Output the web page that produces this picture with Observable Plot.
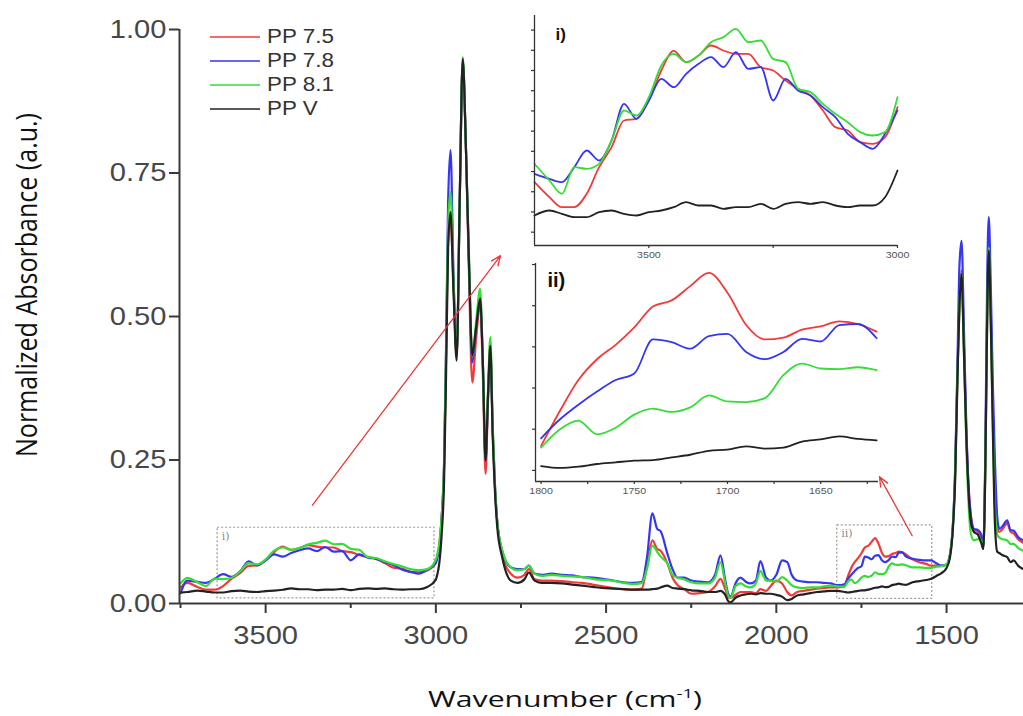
<!DOCTYPE html>
<html><head><meta charset="utf-8">
<script src="https://cdn.jsdelivr.net/npm/d3@7"></script>
<script src="https://cdn.jsdelivr.net/npm/@observablehq/plot@0.6"></script>
<style>
body{margin:0;background:#fff;}
#wrap{position:relative;width:1023px;height:716px;overflow:hidden;background:#fff;}
#wrap svg{position:absolute;}
</style></head><body><div id="wrap"></div>
<script>
// ---------- data (wavenumber in cm-1, normalized absorbance) ----------
const wavenumber = [
3750,3730,3700,3675,3650,3625,3600,3575,3550,3525,3500,3475,3450,3425,3400,3375,3350,3325,3300,3275,3250,3225,3200,3175,3150,3125,3100,3075,3050,3025,3000,
2996,2990,2983,2976,2970,2964,2957,2948,2939,2930,2921,2912,2903,2893,2882,2870,2862,2854,2847,2840,2833,2826,2820,2805,2780,
2760,2740,2727,2710,2690,2660,2630,2600,2570,2540,2510,2480,2450,2420,2395,2380,2364,2350,2340,2320,2305,2290,2270,2250,2225,2200,2180,2164,2150,2140,2134,2120,2105,2090,2076,2060,2047,2030,2017,2000,1983,1968,1955,1939,1920,1900,1880,1860,1840,1820,
1800,1790,1780,1770,1760,1750,1740,1730,1720,1710,1700,1690,1680,1670,1660,1650,1640,1630,1620,
1600,1580,1560,1545,1530,1515,1500,1490,1482,1475,1468,1462,1456,1449,1442,1435,1428,1420,1408,1398,1392,1386,1381,1376,1370,1364,1358,1351,1345,1335,1322,1312,1303,1290,1275
];
const pp75 = [
0.028,0.036,0.0288,0.024,0.024,0.0304,0.0432,0.0528,0.0656,0.0664,0.0752,0.0896,0.099,0.0936,0.0968,0.1016,0.0992,0.0976,0.0976,0.0912,0.0896,0.0848,0.0808,0.0776,0.0704,0.0624,0.0608,0.0552,0.0544,0.0576,0.072,
0.08,0.10,0.15,0.24,0.43,0.63,0.67,0.55,0.43,0.70,0.945,0.80,0.58,0.385,0.46,0.52,0.40,0.226,0.35,0.44,0.30,0.20,0.145,0.085,0.052,
0.045,0.05,0.06,0.042,0.04,0.04,0.039,0.037,0.036,0.033,0.030,0.027,0.025,0.024,0.026,0.065,0.11,0.095,0.092,0.07,0.045,0.032,0.025,0.017,0.018,0.020,0.030,0.043,0.025,0.010,0.010,0.015,0.020,0.020,0.020,0.018,0.025,0.022,0.030,0.040,0.035,0.020,0.014,0.020,0.022,0.024,0.026,0.027,0.028,0.028,
0.0299,0.0467,0.0619,0.0720,0.0790,0.0875,0.0976,0.1006,0.1075,0.1139,0.1043,0.0886,0.0816,0.0825,0.0864,0.0880,0.0904,0.0891,0.0854,
0.077,0.072,0.069,0.066,0.066,0.066,0.068,0.085,0.13,0.22,0.40,0.53,0.58,0.45,0.30,0.20,0.15,0.13,0.125,0.115,0.097,0.25,0.49,0.62,0.50,0.33,0.20,0.13,0.125,0.13,0.14,0.125,0.122,0.112,0.106
];
const pp78 = [
0.018,0.04,0.0376,0.036,0.0432,0.0512,0.0464,0.056,0.0736,0.0664,0.0752,0.0856,0.0816,0.088,0.0928,0.096,0.0912,0.0984,0.0904,0.0912,0.0752,0.0856,0.08,0.0776,0.072,0.0672,0.0592,0.0552,0.052,0.0592,0.0704,
0.08,0.10,0.15,0.24,0.45,0.70,0.79,0.57,0.435,0.70,0.945,0.80,0.60,0.42,0.48,0.525,0.42,0.25,0.36,0.44,0.30,0.20,0.145,0.092,0.063,
0.06,0.06,0.066,0.052,0.05,0.052,0.05,0.049,0.046,0.045,0.043,0.040,0.037,0.036,0.038,0.08,0.157,0.13,0.126,0.087,0.06,0.045,0.045,0.040,0.038,0.037,0.050,0.084,0.040,0.015,0.012,0.035,0.045,0.038,0.035,0.040,0.074,0.045,0.040,0.050,0.075,0.072,0.05,0.04,0.038,0.037,0.037,0.036,0.035,0.032,
0.0336,0.0427,0.0499,0.0563,0.0619,0.0651,0.0816,0.0803,0.0771,0.0832,0.0843,0.0755,0.0720,0.0755,0.0819,0.0806,0.0886,0.0891,0.0822,
0.078,0.076,0.075,0.075,0.07,0.066,0.068,0.085,0.13,0.23,0.42,0.59,0.632,0.48,0.31,0.20,0.15,0.13,0.128,0.12,0.10,0.27,0.55,0.673,0.55,0.38,0.25,0.15,0.13,0.135,0.145,0.128,0.127,0.116,0.11
];
const pp81 = [
0.035,0.0448,0.0368,0.0304,0.0432,0.0424,0.0448,0.056,0.0704,0.068,0.0768,0.092,0.0976,0.0936,0.0968,0.1032,0.1056,0.1096,0.1032,0.104,0.0952,0.0936,0.0808,0.0792,0.0736,0.0688,0.0648,0.06,0.0584,0.06,0.0768,
0.085,0.105,0.15,0.24,0.44,0.66,0.717,0.56,0.43,0.70,0.952,0.80,0.61,0.43,0.49,0.548,0.42,0.255,0.37,0.464,0.31,0.20,0.145,0.092,0.063,
0.058,0.06,0.066,0.052,0.048,0.05,0.048,0.047,0.046,0.043,0.041,0.040,0.036,0.034,0.036,0.06,0.101,0.09,0.082,0.07,0.05,0.045,0.042,0.037,0.035,0.035,0.045,0.072,0.035,0.012,0.010,0.030,0.035,0.030,0.028,0.035,0.057,0.040,0.040,0.038,0.046,0.040,0.032,0.028,0.027,0.028,0.028,0.030,0.031,0.030,
0.0291,0.0379,0.0422,0.0355,0.0387,0.0451,0.0480,0.0464,0.0486,0.0544,0.0515,0.0512,0.0531,0.0643,0.0699,0.0675,0.0672,0.0681,0.0667,
0.063,0.063,0.062,0.062,0.064,0.065,0.068,0.085,0.13,0.22,0.40,0.52,0.575,0.44,0.28,0.17,0.12,0.11,0.112,0.11,0.095,0.24,0.48,0.62,0.49,0.31,0.17,0.12,0.115,0.112,0.11,0.104,0.104,0.097,0.092
];
const ppV = [
0.019,0.020,0.0224,0.0208,0.0192,0.0192,0.0216,0.0224,0.0208,0.020,0.0216,0.0224,0.024,0.0264,0.0248,0.0248,0.0232,0.024,0.024,0.0256,0.0232,0.0256,0.0264,0.0256,0.0264,0.0248,0.024,0.0248,0.0248,0.0288,0.0416,
0.05,0.07,0.12,0.21,0.40,0.62,0.682,0.54,0.423,0.70,0.949,0.80,0.60,0.432,0.48,0.531,0.42,0.249,0.36,0.449,0.29,0.19,0.135,0.08,0.04,
0.036,0.042,0.054,0.040,0.036,0.036,0.035,0.033,0.031,0.029,0.027,0.026,0.025,0.024,0.024,0.024,0.025,0.026,0.028,0.031,0.027,0.026,0.025,0.023,0.022,0.020,0.020,0.022,0.015,0.003,0.002,0.010,0.014,0.016,0.017,0.016,0.018,0.017,0.017,0.015,0.012,0.006,0.008,0.014,0.016,0.018,0.020,0.021,0.022,0.022,
0.0201,0.0192,0.0198,0.0211,0.0219,0.0227,0.0230,0.0243,0.0256,0.0275,0.0281,0.0297,0.0286,0.0291,0.0320,0.0331,0.0345,0.0333,0.0326,
0.037,0.039,0.041,0.043,0.048,0.053,0.062,0.08,0.125,0.21,0.39,0.52,0.574,0.44,0.29,0.19,0.14,0.125,0.12,0.105,0.095,0.24,0.48,0.615,0.49,0.30,0.14,0.09,0.088,0.084,0.081,0.072,0.075,0.066,0.06
];
const series = ["PP 7.5", "PP 7.8", "PP 8.1", "PP V"];
const seriesColors = ["#f23a3a", "#3535f2", "#36dd36", "#222222"];

const xTicks = [3500, 3000, 2500, 2000, 1500];
const xMinorTicks = [3750, 3250, 2750, 2250, 1750];
const yTicks = [0, 0.25, 0.5, 0.75, 1.0];

const insetITicksX = [3500, 3250, 3000];
const insetITickLabels = [3500, 3000];
const insetITicksY = [0.012, 0.0217, 0.0314, 0.0411, 0.0508, 0.0605, 0.0702, 0.0799, 0.0896, 0.0993, 0.109];
const insetIITicksX = [1800, 1775, 1750, 1725, 1700, 1675, 1650, 1625];
const insetIITickLabels = [1800, 1750, 1700, 1650];
const insetIITicksY = [0.018, 0.038, 0.058, 0.078, 0.098, 0.118];

const yTitleText = "Normalized Absorbance (a.u.)";
const xTitleText = "Wavenumber (cm";
const xTitleSup = "-1";

// zoom boxes and arrows (in data units)
const zoomBoxes = [
  {name: "i)", x1: 3641, x2: 3004, y1: 0.009, y2: 0.132},
  {name: "ii)", x1: 1821, x2: 1542, y1: 0.008, y2: 0.136}
];
const arrows = [
  {x1: 3363, y1: 0.171, x2: 2810, y2: 0.606},
  {x1: 1601, y1: 0.118, x2: 1697, y2: 0.221}
];

// ---------- build ----------
const valuesBySeries = [pp75, pp78, pp81, ppV];
const tidy = [];
series.forEach((s, k) => wavenumber.forEach((w, i) => tidy.push({wn: w, v: valuesBySeries[k][i], series: s})));

const wrap = document.getElementById("wrap");
function place(el, left, top) { el.style.position = "absolute"; el.style.left = left + "px"; el.style.top = top + "px"; wrap.appendChild(el); }
function stretchLabels(svg, sx) {
  d3.select(svg).selectAll("g[aria-label$='tick label'] text").each(function () {
    const t = this.getAttribute("transform") || "";
    this.setAttribute("transform", t + ` scale(${sx},1)`);
  });
}
const colorScale = {domain: series, range: seriesColors};
const axisColor = "#3a3a3a";

const main = Plot.plot({
  width: 1023, height: 716,
  marginLeft: 179, marginRight: 0, marginTop: 29, marginBottom: 113,
  x: {domain: [3753, 1274]},
  y: {domain: [0, 1]},
  color: colorScale,
  style: {fontFamily: "'Liberation Sans', Arial, sans-serif", background: "transparent", color: "#474747"},
  marks: [
    Plot.rect(zoomBoxes, {x1: "x1", x2: "x2", y1: "y1", y2: "y2", fill: "none", stroke: "#9a9a9a", strokeWidth: 1.2, strokeDasharray: "2,2"}),
    Plot.text(zoomBoxes, {x: "x1", y: "y2", text: "name", textAnchor: "start", lineAnchor: "top", dx: 4, dy: 4, fontFamily: "'DejaVu Serif', serif", fontSize: 11, fill: "#8a8a8a"}),
    Plot.line(tidy, {x: "wn", y: "v", stroke: "series", z: "series", strokeWidth: 2.2, curve: "monotone-x"}),
    Plot.arrow(arrows, {x1: "x1", y1: "y1", x2: "x2", y2: "y2", stroke: "#e8393b", strokeWidth: 1.3, headLength: 12, headAngle: 45}),
    Plot.axisX({ticks: xMinorTicks, tickSize: 5, tickFormat: () => "", stroke: axisColor, strokeWidth: 2, label: null}),
    Plot.axisX({ticks: xTicks, tickSize: 10, tickPadding: 12, tickFormat: d => String(d), fontSize: 26, stroke: axisColor, strokeWidth: 2, label: null}),
    Plot.axisY({ticks: yTicks, tickSize: 10, tickPadding: 3, tickFormat: d => d.toFixed(2), fontSize: 26, stroke: axisColor, strokeWidth: 2, label: null}),
    Plot.ruleY([0], {stroke: axisColor, strokeWidth: 2}),
    Plot.ruleX([3753], {stroke: axisColor, strokeWidth: 2})
  ]
});
stretchLabels(main, 1.12);
place(main, 0, 0);

function inset(opts) {
  const data = tidy.filter(d => d.wn <= opts.xmax && d.wn >= opts.xmin);
  const svg = Plot.plot({
    width: opts.width, height: opts.height,
    marginLeft: 30, marginRight: 20, marginTop: 10, marginBottom: 25,
    x: {domain: opts.xdomain},
    y: {domain: opts.ydomain},
    color: colorScale,
    style: {fontFamily: "'Liberation Sans', Arial, sans-serif", background: "transparent", color: "#555"},
    marks: [
      Plot.line(data, {x: "wn", y: "v", stroke: "series", z: "series", strokeWidth: 1.8, curve: "monotone-x"}),
      Plot.axisX({ticks: opts.ticksX, tickSize: 3, tickPadding: 3, fontSize: 9.5, stroke: "#333", strokeWidth: 1.2,
        tickFormat: d => opts.labelsX.includes(d) ? String(d) : "", label: null}),
      Plot.axisY({ticks: opts.ticksY, tickSize: 3, tickFormat: () => "", stroke: "#333", strokeWidth: 1.2, label: null}),
      Plot.ruleY([opts.ydomain[0]], {stroke: "#333", strokeWidth: 1.3}),
      Plot.ruleX([opts.xdomain[0]], {stroke: "#333", strokeWidth: 1.3}),
      Plot.text([opts.title], {frameAnchor: "top-left", dx: opts.tdx, dy: opts.tdy, fontWeight: "bold", fontSize: opts.tsize, fill: "#111"})
    ]
  });
  stretchLabels(svg, 1.12);
  return svg;
}

const insetI = inset({
  width: 413, height: 265, xmin: 3000, xmax: 3730,
  xdomain: [3730, 3000], ydomain: [0.0056, 0.116],
  ticksX: insetITicksX, labelsX: insetITickLabels, ticksY: insetITicksY,
  title: "i)", tdx: 21, tdy: 12, tsize: 17
});
place(insetI, 504, 5);

const insetII = inset({
  width: 393, height: 253, xmin: 1620, xmax: 1800,
  xdomain: [1803, 1619], ydomain: [0.0126, 0.1185],
  ticksX: insetIITicksX, labelsX: insetIITickLabels, ticksY: insetIITicksY,
  title: "ii)", tdx: 12, tdy: 9, tsize: 20
});
place(insetII, 505, 253);

// legend
const legend = document.createElement("div");
legend.style.width = "160px"; legend.style.height = "100px";
series.forEach((s, k) => {
  const row = document.createElement("div");
  row.style.cssText = `position:absolute;left:0;top:${k * 24}px;height:24px;width:160px;`;
  row.innerHTML = `<svg width="52" height="24" style="position:absolute;left:0;top:0"><line x1="0" x2="50" y1="12" y2="12" stroke="${seriesColors[k]}" stroke-width="1.6"/></svg>` +
    `<span style="position:absolute;left:57px;top:0;line-height:24px;font:20px 'Liberation Sans',Arial,sans-serif;color:#333;transform:scaleX(1.12);transform-origin:left center;white-space:nowrap">${s}</span>`;
  legend.appendChild(row);
});
place(legend, 210, 25);

// axis titles (overlay svg)
const titles = d3.create("svg").attr("width", 1023).attr("height", 716)
  .style("left", "0px").style("top", "0px").style("pointer-events", "none")
  .style("font-family", "'Open Sans', sans-serif").style("fill", "#111");
titles.append("text")
  .attr("transform", "translate(37,285) scale(1.3,1) rotate(-90)")
  .attr("text-anchor", "middle").attr("font-size", 23)
  .attr("textLength", 344).attr("lengthAdjust", "spacingAndGlyphs")
  .text(yTitleText);
const xt = titles.append("text")
  .attr("x", 565).attr("y", 707).attr("text-anchor", "middle").attr("font-size", 21)
  .attr("textLength", 274).attr("lengthAdjust", "spacingAndGlyphs");
xt.append("tspan").text(xTitleText);
xt.append("tspan").attr("font-size", 13).attr("dy", -9).text(xTitleSup);
xt.append("tspan").attr("dy", 9).text(")");
wrap.appendChild(titles.node());
</script>
</body></html>
